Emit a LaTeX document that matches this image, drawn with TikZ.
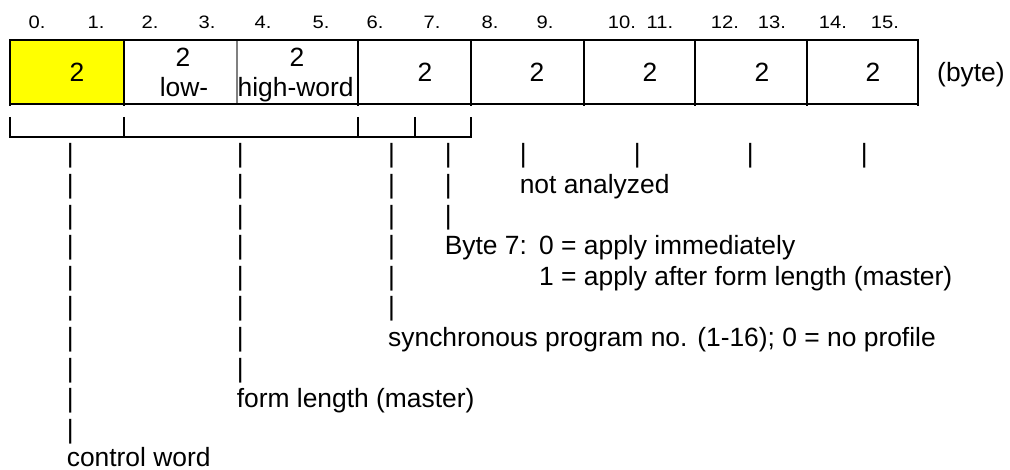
\documentclass[tikz,border=0pt]{standalone}
\usepackage{fontspec}
\setmainfont{Liberation Sans}
\newfontfamily\hdrfont{Liberation Sans}[FakeStretch=1.12]
\definecolor{cellyellow}{RGB}{255,255,0}
\definecolor{divgray}{RGB}{128,128,128}
\tikzset{
  frame/.style={draw=black, line width=2pt},
  txt/.style={anchor=base west, inner sep=0pt, font=\fontsize{26.4}{26.4}\selectfont},
  ctxt/.style={anchor=base, inner sep=0pt, font=\fontsize{26.4}{26.4}\selectfont},
  hdr/.style={anchor=base, inner sep=0pt, font=\hdrfont\fontsize{18}{18}\selectfont},
}
\begin{document}
\begin{tikzpicture}[x=1pt,y=-1pt]
\useasboundingbox (0,0) rectangle (1010,470);

% byte numbers above the frame
\foreach \x [count=\i from 0] in {37,96,150,207,263,321,375,432,490,545,622,660,725,772,833,885}
  \node[hdr] (h\i) at (\x,29) {\i.};

% the 16-byte frame
\fill[cellyellow] (10,40) rectangle (124,104);
\draw[line width=2pt, divgray] (237,40) -- (237,104);
\draw[frame] (10,40) rectangle (918,104);
\foreach \x in {10,124,358,471,584,695,807,918}
  \draw[frame] (\x,40) -- (\x,106);

% contents of the words
\node[ctxt] (w0) at (77,81.5) {2};
\node[ctxt] (w1) at (183,67) {2};
\node[ctxt] (w1t) at (184,97) {low-};
\node[ctxt] (w2) at (297,67) {2};
\node[txt] (w2t) at (237.5,97) {high-word};
\node[ctxt] (w3) at (425,81.5) {2};
\node[ctxt] (w4) at (537,81.5) {2};
\node[ctxt] (w5) at (650,81.5) {2};
\node[ctxt] (w6) at (762,81.5) {2};
\node[ctxt] (w7) at (873,81.5) {2};
\node[txt] (unit) at (937,81.5) {(byte)};

% grouping bracket below the frame
\draw[frame] (10,117) -- (10,137) -- (471,137) -- (471,117);
\foreach \x in {124,358,415}
  \draw[frame] (\x,117) -- (\x,137);

% leader bars, one per text line
\foreach \r in {1,...,10}
  \node[txt] (barA\r) at (66.6,{163+30.6*(\r-1)}) {|};
\foreach \r in {1,...,8}
  \node[txt] (barB\r) at (236.6,{163+30.6*(\r-1)}) {|};
\foreach \r in {1,...,6}
  \node[txt] (barC\r) at (388,{163+30.6*(\r-1)}) {|};
\foreach \r in {1,...,3}
  \node[txt] (barD\r) at (444.6,{163+30.6*(\r-1)}) {|};
\foreach \x [count=\i] in {519.6,633.6,746.6,860.6}
  \node[txt] (barE\i) at (\x,163) {|};

% descriptions
\node[txt] (na) at (519.6,193.6) {not analyzed};
\node[txt] (b7) at (444.6,254.8) {Byte 7:};
\node[txt] (b7a) at (539,254.8) {0 = apply immediately};
\node[txt] (b7b) at (539,285.4) {1 = apply after form length (master)};
\node[txt] (sync) at (388,346.6) {synchronous program no. (1-16); 0 = no profile};
\node[txt] (fl) at (236.6,407.8) {form length (master)};
\node[txt] (ctl) at (66.6,466.5) {control word};
\end{tikzpicture}
\end{document}
